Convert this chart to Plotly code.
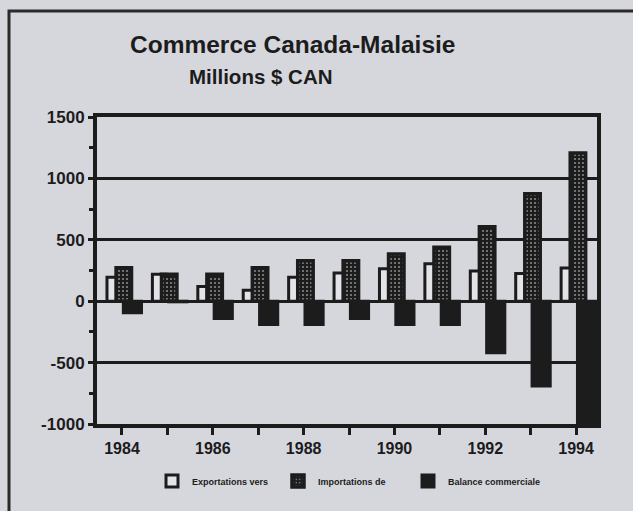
import plotly.graph_objects as go

years = [1984, 1985, 1986, 1987, 1988, 1989, 1990, 1991, 1992, 1993, 1994]
exports = [195, 220, 120, 90, 195, 230, 265, 305, 245, 225, 270]
imports = [272, 220, 220, 272, 330, 330, 385, 440, 607, 875, 1207]
balance = [-95, -5, -140, -190, -190, -140, -190, -190, -420, -690, -995]

series_names = ["Exportations vers", "Importations de", "Balance commerciale"]
y_tickvals = [-1000, -500, 0, 500, 1000, 1500]
y_ticktext = ["-1000", "-500", "0", "500", "1000", "1500"]
title_text = "Commerce Canada-Malaisie"
subtitle_text = "Millions $ CAN"

BG = "#d6d7dc"
INK = "#1c1c1c"
FONT = "Liberation Sans"

W, H = 633, 511
L, R, T, B = 97, 36, 117, 87
pw, ph = W - L - R, H - T - B


def px_x(p):
    return (p - L) / pw


def px_y(p):
    return (H - B - p) / ph


fig = go.Figure()
fig.add_trace(go.Bar(
    x=years, y=exports, name=series_names[0], legend="legend",
    offset=-0.33, width=0.30,
    marker=dict(color="#e4e4e8", line=dict(color=INK, width=3)),
))
fig.add_trace(go.Bar(
    x=years, y=imports, name=series_names[1], legend="legend2",
    offset=-0.13, width=0.34,
    marker=dict(color=INK, line=dict(color=INK, width=3.5),
                pattern=dict(shape=".", fgcolor="#f0f0f0", bgcolor=INK,
                             size=4, solidity=0.22, fillmode="overlay")),
))
fig.add_trace(go.Bar(
    x=years, y=balance, name=series_names[2], legend="legend3",
    offset=0.03, width=0.40,
    marker=dict(color=INK, line=dict(color=INK, width=3)),
))

legend_font = dict(family=FONT, size=9, color=INK, weight="bold")


def legend_at(xpx):
    return dict(orientation="h", x=px_x(xpx), xanchor="left",
                y=px_y(481), yanchor="middle",
                bgcolor="rgba(0,0,0,0)", font=legend_font)


fig.update_layout(
    width=W, height=H,
    margin=dict(l=L, r=R, t=T, b=B, autoexpand=False),
    paper_bgcolor=BG, plot_bgcolor=BG,
    barmode="overlay",
    font=dict(family=FONT, color=INK),
    showlegend=True,
    legend=legend_at(152),
    legend2=legend_at(278),
    legend3=legend_at(408),
    xaxis=dict(
        range=[1983.45, 1994.46],
        tick0=1984, dtick=2,
        ticks="outside", ticklen=7, tickwidth=3, tickcolor=INK,
        minor=dict(dtick=1, ticks="outside", ticklen=7, tickwidth=3, tickcolor=INK),
        showgrid=False, zeroline=False,
        showline=True, linewidth=4, linecolor=INK, mirror=True,
        tickfont=dict(family=FONT, size=16, color=INK, weight="bold"),
    ),
    yaxis=dict(
        range=[-1000, 1500],
        tickmode="array", tickvals=y_tickvals, ticktext=y_ticktext,
        ticks="outside", ticklen=5, tickwidth=3, tickcolor=INK,
        minor=dict(dtick=250, tick0=-1000, ticks="outside", ticklen=4, tickwidth=3, tickcolor=INK),
        showgrid=True, gridcolor=INK, gridwidth=3,
        zeroline=True, zerolinecolor=INK, zerolinewidth=3,
        showline=True, linewidth=4, linecolor=INK, mirror=True,
        tickfont=dict(family=FONT, size=17, color=INK, weight="bold"),
    ),
    annotations=[
        dict(text=title_text, x=px_x(292), y=px_y(45), xref="paper", yref="paper",
             showarrow=False, xanchor="center", yanchor="middle",
             font=dict(family=FONT, size=24.5, color=INK, weight="bold")),
        dict(text=subtitle_text, x=px_x(261), y=px_y(77), xref="paper", yref="paper",
             showarrow=False, xanchor="center", yanchor="middle",
             font=dict(family=FONT, size=20.5, color=INK, weight="bold")),
    ],
    shapes=[
        dict(type="rect", xref="paper", yref="paper",
             x0=px_x(9), x1=px_x(650), y0=px_y(530), y1=px_y(11),
             line=dict(color="#2a2a2a", width=3), fillcolor="rgba(0,0,0,0)", layer="below"),
    ],
)

fig.write_html(
    "out.html",
    config={"displayModeBar": False},
    post_script="document.body.style.margin='0px';document.body.style.background='%s';" % BG,
)
